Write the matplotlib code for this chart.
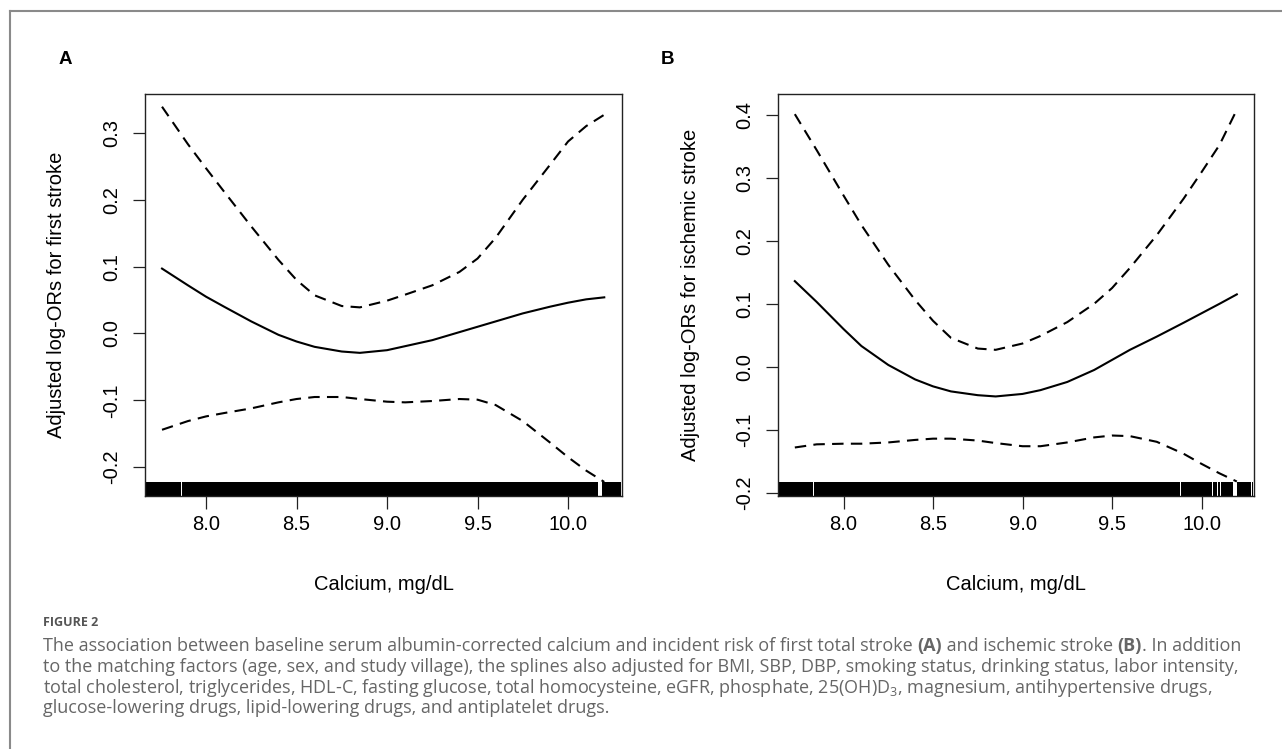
import matplotlib
matplotlib.use('Agg')
import matplotlib.pyplot as plt
from matplotlib.lines import Line2D

W, H = 1282, 749
plt.rcParams['font.family'] = ['Liberation Sans', 'DejaVu Sans']
plt.rcParams['mathtext.fontset'] = 'custom'
plt.rcParams['mathtext.rm'] = 'Open Sans'

# ---- data ----
# panel A: first stroke
calcium_a = [7.757, 7.9, 8.0, 8.1, 8.25, 8.4, 8.5, 8.6, 8.75, 8.85, 9.0,
             9.1, 9.25, 9.4, 9.5, 9.6, 9.75, 9.9, 10.0, 10.1, 10.2]
fit_a = [0.097, 0.072, 0.055, 0.040, 0.018, -0.002, -0.012, -0.020, -0.027,
         -0.029, -0.025, -0.019, -0.010, 0.002, 0.010, 0.018, 0.030, 0.040,
         0.046, 0.051, 0.054]
upper_a = [0.339, 0.283, 0.247, 0.212, 0.160, 0.110, 0.080, 0.057, 0.041,
           0.039, 0.049, 0.058, 0.072, 0.092, 0.112, 0.143, 0.200, 0.252,
           0.287, 0.310, 0.327]
lower_a = [-0.144, -0.131, -0.124, -0.119, -0.112, -0.103, -0.098, -0.095,
           -0.095, -0.098, -0.102, -0.103, -0.101, -0.098, -0.099, -0.107,
           -0.131, -0.163, -0.185, -0.205, -0.222]

# panel B: ischemic stroke
calcium_b = [7.728, 7.85, 8.0, 8.1, 8.25, 8.4, 8.5, 8.6, 8.75, 8.85, 9.0,
             9.1, 9.25, 9.4, 9.5, 9.6, 9.75, 9.9, 10.0, 10.1, 10.197]
fit_b = [0.136, 0.103, 0.060, 0.033, 0.003, -0.020, -0.031, -0.039, -0.045,
         -0.047, -0.043, -0.037, -0.024, -0.005, 0.011, 0.027, 0.048, 0.070,
         0.085, 0.100, 0.115]
upper_b = [0.401, 0.344, 0.272, 0.225, 0.162, 0.106, 0.073, 0.046, 0.029,
           0.027, 0.037, 0.049, 0.071, 0.100, 0.125, 0.157, 0.209, 0.267,
           0.309, 0.352, 0.408]
lower_b = [-0.128, -0.123, -0.122, -0.122, -0.120, -0.116, -0.114, -0.114,
           -0.117, -0.121, -0.126, -0.126, -0.120, -0.112, -0.109, -0.110,
           -0.119, -0.138, -0.154, -0.169, -0.182]

# rug: range of observed calcium and the visible gaps in it
rug_range_a = (7.66, 10.29)
rug_gaps_a = [(7.843, 7.848), (7.864, 7.869), (10.053, 10.057), (10.168, 10.19),
              (10.252, 10.256), (10.274, 10.278)]
rug_range_b = (7.634, 10.285)
rug_gaps_b = [(7.832, 7.837), (7.855, 7.860), (9.882, 9.885), (10.058, 10.064),
              (10.088, 10.091), (10.103, 10.107), (10.178, 10.196),
              (10.258, 10.262), (10.277, 10.281)]

xticks = [8.0, 8.5, 9.0, 9.5, 10.0]
yticks_a = [-0.2, -0.1, 0.0, 0.1, 0.2, 0.3]
yticks_b = [-0.2, -0.1, 0.0, 0.1, 0.2, 0.3, 0.4]

caption_lines = [
    [("The association between baseline serum albumin-corrected calcium and incident risk of first total stroke ", 'normal'),
     ("(A)", 'bold'), (" and ischemic stroke ", 'normal'), ("(B)", 'bold'), (". In addition", 'normal')],
    [("to the matching factors (age, sex, and study village), the splines also adjusted for BMI, SBP, DBP, smoking status, drinking status, labor intensity,", 'normal')],
    [("total cholesterol, triglycerides, HDL-C, fasting glucose, total homocysteine, eGFR, phosphate, 25(OH)D$_3$, magnesium, antihypertensive drugs,", 'normal')],
    [("glucose-lowering drugs, lipid-lowering drugs, and antiplatelet drugs.", 'normal')],
]


def px(x, y):
    return x / W, 1 - y / H


fig = plt.figure(figsize=(W / 100, H / 100), dpi=100)

# outer frame (left and top edges visible)
fig.add_artist(Line2D([10 / W, 10 / W], [0, 1 - 11 / H], color='#8a8a8a', lw=1.5))
fig.add_artist(Line2D([10 / W, 1], [1 - 11 / H, 1 - 11 / H], color='#8a8a8a', lw=1.5))


def panel(left, right, xlim, ylim, x, fit, up, lo, yticks, rug_range, rug_gaps,
          ylabel, letter, letter_x, ylabel_x):
    top, bottom = 94, 496
    l, b = px(left, bottom)
    ax = fig.add_axes([l, b, (right - left) / W, (bottom - top) / H])
    ax.plot(x, fit, color='black', lw=1.5, solid_joinstyle='round')
    ax.plot(x, up, color='black', lw=1.5, ls=(0, (5.5, 3.5)))
    ax.plot(x, lo, color='black', lw=1.5, ls=(0, (5.5, 3.5)))

    # rug drawn as black band with small gaps
    edges = [rug_range[0]]
    for g0, g1 in rug_gaps:
        edges += [g0, g1]
    edges.append(rug_range[1])
    segs = [(edges[i], edges[i + 1] - edges[i]) for i in range(0, len(edges), 2)]
    ax.broken_barh(segs, (0, 0.035), transform=ax.get_xaxis_transform(),
                   facecolor='black', edgecolor='none')

    ax.set_xlim(*xlim)
    ax.set_ylim(*ylim)
    ax.set_xticks(xticks)
    ax.set_xticklabels(['%.1f' % v for v in xticks])
    ax.set_yticks(yticks)
    ax.set_yticklabels(['%.1f' % v for v in yticks], rotation=90, va='center')
    ax.tick_params(direction='out', length=9, width=0.9, labelsize=14.5,
                   colors='#222222', labelcolor='black')
    ax.tick_params(axis='x', pad=5)
    ax.tick_params(axis='y', pad=8)
    for s in ax.spines.values():
        s.set_linewidth(1.0)
        s.set_color('#222222')

    ax.set_xlabel('Calcium, mg/dL', fontsize=14.5, va='center')
    ax.xaxis.set_label_coords(0.5, -(585 - bottom) / (bottom - top))
    ax.set_ylabel(ylabel, fontsize=14.5, va='center')
    ax.yaxis.set_label_coords(-(left - ylabel_x) / (right - left), 0.5)

    fig.text(*px(letter_x, 59), letter, fontsize=13.5, fontweight='bold',
             ha='center', va='center')
    return ax


panel(145, 622, (7.663, 10.298), (-0.243, 0.358), calcium_a, fit_a, upper_a,
      lower_a, yticks_a, rug_range_a, rug_gaps_a,
      'Adjusted log-ORs for first stroke', 'A', 65, 57)
panel(778, 1254, (7.634, 10.293), (-0.205, 0.433), calcium_b, fit_b, upper_b,
      lower_b, yticks_b, rug_range_b, rug_gaps_b,
      'Adjusted log-ORs for ischemic stroke', 'B', 667, 690)

# caption
fig.text(*px(43, 622), 'FIGURE 2', family='Open Sans', fontsize=9,
         fontweight='bold', color='#555555', va='center')

renderer = fig.canvas.get_renderer()
cap_size = 13.0
cap_color = '#666666'


def seg_width(s, weight):
    t = fig.text(0, 0, s + '|', family='Open Sans', fontsize=cap_size, fontweight=weight)
    w = t.get_window_extent(renderer).width
    t.remove()
    t = fig.text(0, 0, '|', family='Open Sans', fontsize=cap_size, fontweight=weight)
    w -= t.get_window_extent(renderer).width
    t.remove()
    return w


for i, parts in enumerate(caption_lines):
    xpos = 43
    ypos = 646 + i * 20.8
    for s, weight in parts:
        fig.text(*px(xpos, ypos), s, family='Open Sans', fontsize=cap_size,
                 fontweight=weight, color=cap_color, va='center')
        xpos += seg_width(s, weight)

fig.savefig('out.png', dpi=100)
